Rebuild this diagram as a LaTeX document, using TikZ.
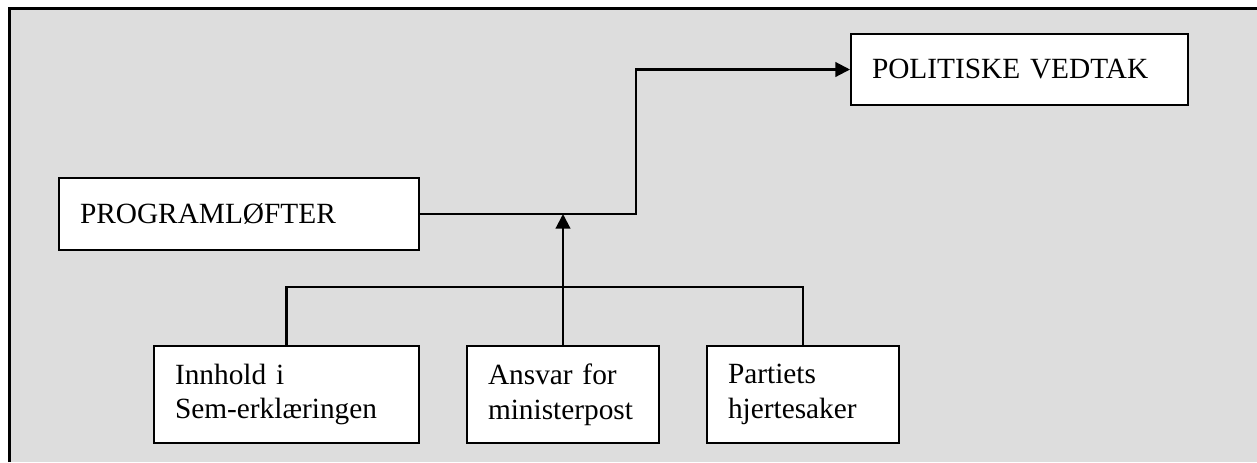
\documentclass[tikz,border=0pt]{standalone}
\usepackage{fontspec}
\setmainfont{Liberation Serif}
\usetikzlibrary{arrows.meta}
\definecolor{bggray}{RGB}{221,221,221}
\tikzset{
  box/.style={draw, line width=1.5pt, fill=white, anchor=north west, align=left,
    inner xsep=15.75pt, inner ysep=0pt, font=\fontsize{22}{26}\selectfont},
  link/.style={line width=1.6pt},
  arr/.style={link, -{Triangle[length=11pt,width=11pt]}}
}
\begin{document}
\begin{tikzpicture}[x=0.75pt,y=-0.75pt]
  \useasboundingbox (0,0) rectangle (1257,462);

  % Background panel with its frame
  \fill[bggray] (9,8) rectangle (1257,462);
  \draw[line width=2.25pt] (9,462) -- (9,8) -- (1257,8);

  % Upper boxes
  \node[box, text width=238.5pt, minimum height=54pt] (prog) at (58,177) {PROGRAMLØFTER};
  \node[box, text width=221.25pt, minimum height=53.25pt] (pol) at (850,33) {POLITISKE VEDTAK};

  % Lower boxes
  \node[box, text width=167.25pt, minimum height=72.75pt] (inn) at (153,345) {Innhold i\\Sem-erklæringen};
  \node[box, text width=112.5pt, minimum height=72.75pt] (ans) at (466,345) {Ansvar for\\ministerpost};
  \node[box, text width=112.5pt, minimum height=72.75pt] (par) at (706,345) {Partiets\\hjertesaker};

  % Program promises lead to decisions
  \draw[arr] (prog.east) -- ++(216,0) |- (pol.west);

  % Lower boxes joined by one bar
  \draw[link] (inn.north) -- ++(0,-58) -| (par.north);
  \draw[arr] (ans.north) -- (ans.north |- prog.east);
\end{tikzpicture}
\end{document}
